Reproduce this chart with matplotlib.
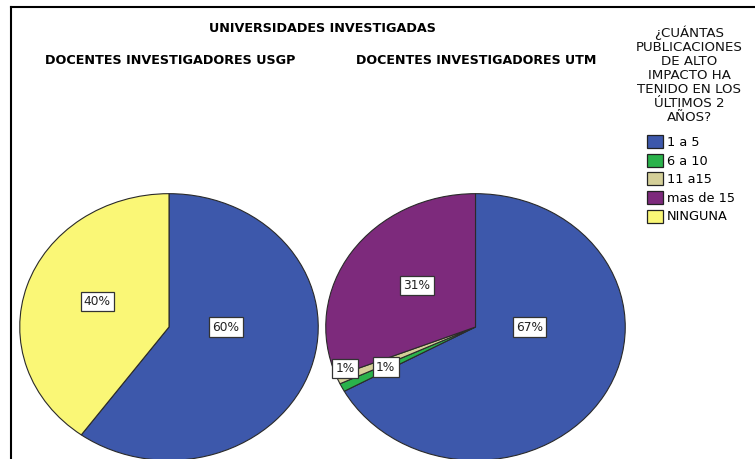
import matplotlib
matplotlib.use("Agg")
import matplotlib.pyplot as plt
from matplotlib.patches import Patch

# categories and colors (legend order)
categorias = ["1 a 5", "6 a 10", "11 a15", "mas de 15", "NINGUNA"]
colores = ["#3D58AB", "#2AB24B", "#D4CF98", "#7D2A7C", "#FAF776"]

# percentages per university (same order as categorias)
usgp = [60, 0, 0, 0, 40]
utm = [67, 1, 1, 31, 0]

titulo = "UNIVERSIDADES INVESTIGADAS"
sub_usgp = "DOCENTES INVESTIGADORES USGP"
sub_utm = "DOCENTES INVESTIGADORES UTM"
titulo_leyenda = "¿CUÁNTAS\nPUBLICACIONES\nDE ALTO\nIMPACTO HA\nTENIDO EN LOS\nÚLTIMOS 2\nAÑOS?"

W, H = 755, 459
fig = plt.figure(figsize=(W / 100, H / 100), dpi=100)
fig.patch.set_facecolor("white")

fam = ["DejaVu Sans"]

# frame lines (top and left)
fig.add_artist(plt.Line2D([11 / W, 1], [1 - 7 / H] * 2, color="black", lw=1.5))
fig.add_artist(plt.Line2D([11 / W] * 2, [0, 1 - 7 / H], color="black", lw=1.5))


def px_axes(x0, y0, x1, y1):
    return fig.add_axes([x0 / W, 1 - y1 / H, (x1 - x0) / W, (y1 - y0) / H])


# label positions in axes-relative coords (-1..1) for each pie
pos_usgp = {0: (0.38, 0.0), 4: (-0.48, 0.19)}
pos_utm = {0: (0.36, 0.0), 1: (-0.87, -0.31), 2: (-0.60, -0.30), 3: (-0.39, 0.31)}


def draw_pie(ax, vals, pos):
    idx = [i for i, v in enumerate(vals) if v > 0]
    ax.pie([vals[i] for i in idx], colors=[colores[i] for i in idx],
           startangle=90, counterclock=False, radius=1,
           wedgeprops=dict(edgecolor="#2a2a2a", linewidth=0.8))
    ax.set_aspect("auto")
    ax.set_xlim(-1.005, 1.005)
    ax.set_ylim(-1.005, 1.005)
    ax.axis("off")
    for i in idx:
        x, y = pos[i]
        ax.text(x, y, f"{vals[i]}%", ha="center", va="center", fontsize=8.8,
                family=fam, color="#222222",
                bbox=dict(boxstyle="square,pad=0.27", fc="white", ec="#333333", lw=0.9))


ax1 = px_axes(19, 193, 319, 461)
draw_pie(ax1, usgp, pos_usgp)
ax2 = px_axes(325, 193, 626, 461)
draw_pie(ax2, utm, pos_utm)

fig.text(322 / W, 1 - 28 / H, titulo, ha="center", va="center", fontsize=9.2,
         fontweight="bold", family=fam)
fig.text(170 / W, 1 - 60 / H, sub_usgp, ha="center", va="center", fontsize=9.2,
         fontweight="bold", family=fam)
fig.text(476 / W, 1 - 60 / H, sub_utm, ha="center", va="center", fontsize=9.1,
         fontweight="bold", family=fam)

fig.text(689 / W, 1 - 75 / H, titulo_leyenda, ha="center", va="center",
         fontsize=9.6, family=fam, linespacing=1.1, color="#111111")

handles = [Patch(facecolor=c, edgecolor="#222222", lw=0.9) for c in colores]
fig.legend(handles, categorias, loc="upper left", bbox_to_anchor=(647 / W, 1 - 135 / H),
           frameon=False, prop=dict(family=fam, size=9.3), handlelength=1.2,
           handleheight=1.2, handletextpad=0.35, labelspacing=0.36, borderpad=0,
           borderaxespad=0)

fig.savefig("out.png", dpi=100)
